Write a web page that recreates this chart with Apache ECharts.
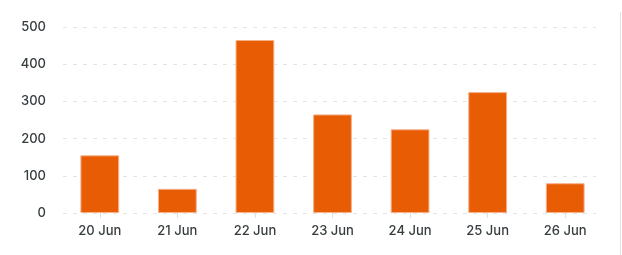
<!DOCTYPE html>
<html>
<head>
<meta charset="utf-8">
<script src="https://cdn.jsdelivr.net/npm/echarts@6/dist/echarts.min.js"></script>
<style>
html,body{margin:0;padding:0;background:#fff;}
#wrap{position:relative;width:622px;height:255px;}
#chart{width:622px;height:255px;}
#edge{position:absolute;left:620px;top:12px;width:1px;height:243px;background:#e3e3e3;}
</style>
</head>
<body>
<div id="wrap"><div id="chart"></div><div id="edge"></div></div>
<script>
const categories = ['20 Jun','21 Jun','22 Jun','23 Jun','24 Jun','25 Jun','26 Jun'];
const values = [155, 65, 465, 265, 225, 325, 80];
const yTicks = [0, 100, 200, 300, 400, 500];

const labelStyle = {color:'#373d3f', fontFamily:'Inter', fontSize:13, fontWeight:500};
const chart = echarts.init(document.getElementById('chart'), null, {renderer:'canvas'});
chart.setOption({
  animation:false,
  grid:[
    {left:61, right:18, top:27, bottom:42},
    {left:63, right:26, top:27, bottom:42}
  ],
  xAxis:[{
    type:'category',
    gridIndex:0,
    data:categories,
    axisLine:{show:false},
    axisTick:{show:true, alignWithLabel:true, length:5, lineStyle:{color:'#e0e0e0'}},
    axisLabel:Object.assign({margin:12}, labelStyle)
  },{
    type:'category', gridIndex:1, data:categories, show:false
  }],
  yAxis:[{
    type:'value', gridIndex:0,
    min:yTicks[0], max:yTicks[yTicks.length-1], interval:100,
    axisLine:{show:false}, axisTick:{show:false},
    axisLabel:Object.assign({margin:15}, labelStyle),
    splitLine:{show:false}
  },{
    type:'value', gridIndex:1,
    min:yTicks[0], max:yTicks[yTicks.length-1], interval:100,
    axisLine:{show:false}, axisTick:{show:false}, axisLabel:{show:false},
    splitLine:{show:true, lineStyle:{color:'#e4e4e8', type:[4,6], width:1}}
  }],
  series:[{
    type:'bar',
    xAxisIndex:0, yAxisIndex:0,
    data:values,
    barWidth:'50%',
    z:3,
    itemStyle:{color:'#e85d04', borderColor:'#f6b08a', borderWidth:1}
  }]
});
</script>
</body>
</html>
